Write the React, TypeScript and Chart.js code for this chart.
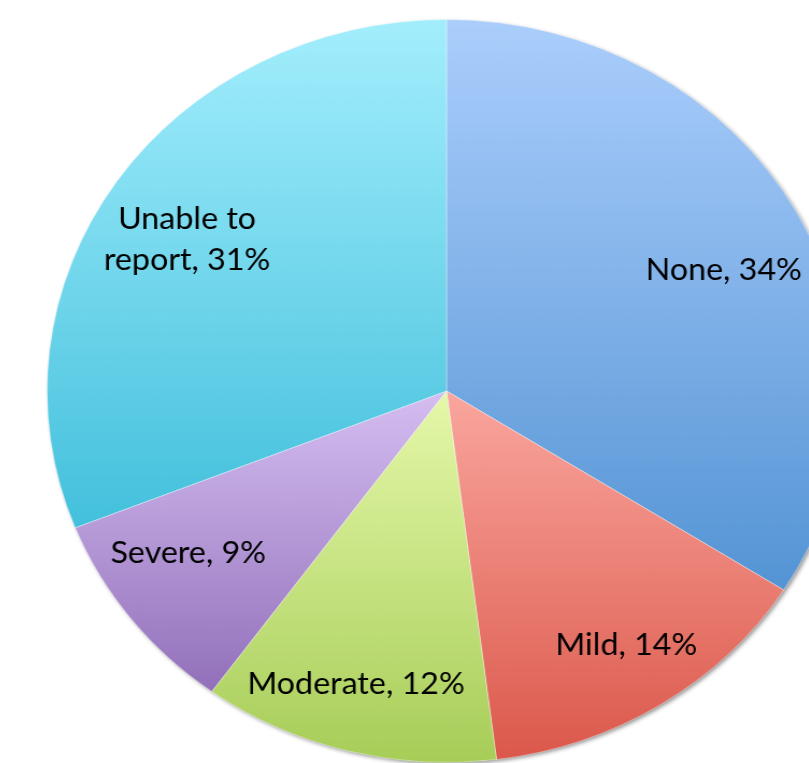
import React, { useEffect, useRef } from "react";
import { Chart, registerables } from "chart.js";

Chart.register(...registerables);

const categories = ["None", "Mild", "Moderate", "Severe", "Unable to report"];
const labelLines = [["None, 34%"], ["Mild, 14%"], ["Moderate, 12%"], ["Severe, 9%"], ["Unable to", "report, 31%"]];
const values = [34, 14, 12, 9, 31];
const topColors = ["#abcefc", "#faa69e", "#e5f8aa", "#d5bef1", "#a3eefd"];
const bottomColors = ["#5494d4", "#db584b", "#a7cd58", "#9270ba", "#43c0dc"];
// label placement: radius fraction and angle offset (degrees) from slice middle
const labelRadius = [0.766, 0.82, 0.822, 0.78, 0.766];
const labelAngleOffset = [3.8, -0.9, 1.6, 3.8, -2.2];

const INTRINSIC = 760;
const STRETCH = 1.075;

function sliceGradient(ctx: any) {
  const chart = ctx.chart;
  const i = ctx.dataIndex;
  const area = chart.chartArea;
  if (i === undefined || !area) return topColors[i ?? 0];
  const cy = (area.top + area.bottom) / 2;
  const r = Math.min(area.right - area.left, area.bottom - area.top) / 2;
  const total = values.reduce((a, b) => a + b, 0);
  let before = 0;
  for (let k = 0; k < i; k++) before += values[k];
  const a0 = (before / total) * 360;
  const a1 = ((before + values[i]) / total) * 360;
  const ys = [cy, cy - r * Math.cos((a0 * Math.PI) / 180), cy - r * Math.cos((a1 * Math.PI) / 180)];
  if (a0 <= 0.001) ys.push(cy - r);
  if (a0 <= 180 && a1 >= 180) ys.push(cy + r);
  const minY = Math.min(...ys);
  const maxY = Math.max(...ys);
  const g = chart.ctx.createLinearGradient(0, minY, 0, maxY);
  g.addColorStop(0, topColors[i]);
  g.addColorStop(1, bottomColors[i]);
  return g;
}

const shadowPlugin = {
  id: "pieShadow",
  beforeDatasetsDraw(chart: any) {
    const meta = chart.getDatasetMeta(0);
    const el = meta.data[0];
    if (!el) return;
    const ctx = chart.ctx;
    ctx.save();
    ctx.beginPath();
    ctx.arc(el.x, el.y, el.outerRadius - 0.5, 0, Math.PI * 2);
    ctx.shadowColor = "rgba(0,0,0,0.45)";
    ctx.shadowBlur = 4;
    ctx.shadowOffsetX = 2;
    ctx.shadowOffsetY = 2;
    ctx.fillStyle = "#ffffff";
    ctx.fill();
    ctx.restore();
  },
};

const labelPlugin = {
  id: "sliceLabels",
  afterDatasetsDraw(chart: any) {
    const meta = chart.getDatasetMeta(0);
    const ctx = chart.ctx;
    ctx.save();
    ctx.font = "30px Lato, 'Open Sans', sans-serif";
    ctx.fillStyle = "#000000";
    ctx.textAlign = "center";
    ctx.textBaseline = "middle";
    meta.data.forEach((el: any, i: number) => {
      const mid = (el.startAngle + el.endAngle) / 2 + (labelAngleOffset[i] * Math.PI) / 180;
      const rr = el.outerRadius * labelRadius[i];
      const x = el.x + Math.cos(mid) * rr;
      const y = el.y + Math.sin(mid) * rr;
      const lines = labelLines[i];
      const lh = 41;
      lines.forEach((t, j) => {
        ctx.fillText(t, x, y + (j - (lines.length - 1) / 2) * lh);
      });
    });
    ctx.restore();
  },
};

export default function App() {
  const ref = useRef<HTMLCanvasElement | null>(null);
  useEffect(() => {
    if (!ref.current) return;
    const chart = new Chart(ref.current, {
      type: "pie",
      data: {
        labels: categories,
        datasets: [
          {
            data: values,
            backgroundColor: sliceGradient as any,
            borderWidth: 1,
            borderColor: "rgba(255,255,255,0.35)",
          },
        ],
      },
      options: {
        responsive: false,
        animation: false,
        devicePixelRatio: 1,
        layout: { padding: 8 },
        plugins: { legend: { display: false }, tooltip: { enabled: false } },
      },
      plugins: [shadowPlugin, labelPlugin],
    });
    return () => chart.destroy();
  }, []);
  const cssW = INTRINSIC * STRETCH;
  return (
    <div style={{ position: "fixed", left: 0, top: 0, width: 809, height: 763, overflow: "hidden", background: "#ffffff" }}>
      <canvas
        ref={ref}
        width={INTRINSIC}
        height={INTRINSIC}
        style={{ position: "absolute", left: 446 - cssW / 2, top: 391 - INTRINSIC / 2, width: cssW, height: INTRINSIC }}
      />
    </div>
  );
}
